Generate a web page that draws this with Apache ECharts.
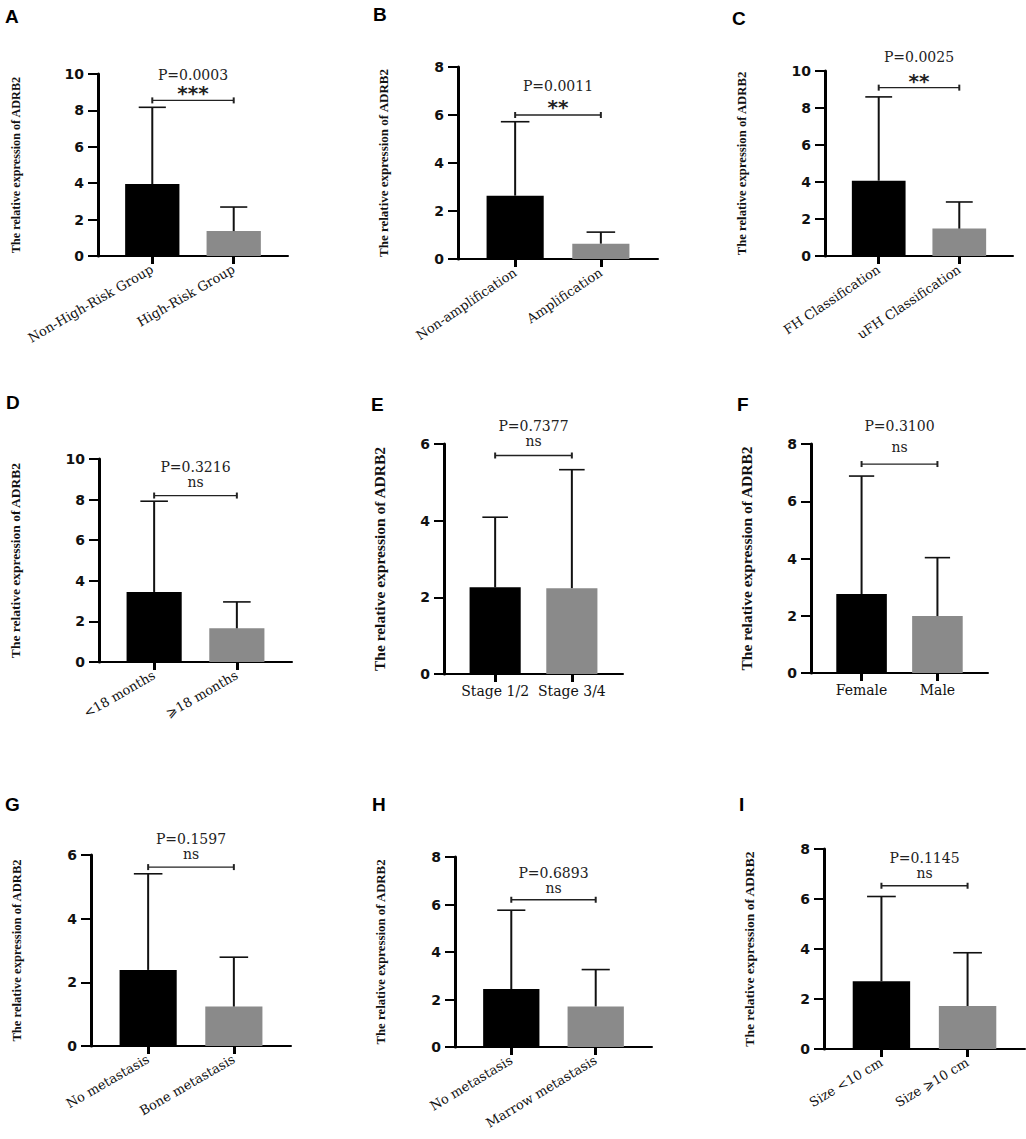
<!DOCTYPE html>
<html>
<head>
<meta charset="utf-8">
<title>Relative expression of ADRB2</title>
<script src="https://cdn.jsdelivr.net/npm/echarts@6/dist/echarts.min.js"></script>
<style>
  html, body { margin: 0; padding: 0; background: #fff; }
  #chart { width: 1026px; height: 1139px; }
</style>
</head>
<body>
<div id="chart"></div>
<script>
// ---- data ----
const panelLetters = ["A", "B", "C", "D", "E", "F", "G", "H", "I"];
const categories = [
  ["Non-High-Risk Group", "High-Risk Group"],
  ["Non-amplification", "Amplification"],
  ["FH Classification", "uFH Classification"],
  ["<18 months", "⩾18 months"],
  ["Stage 1/2", "Stage 3/4"],
  ["Female", "Male"],
  ["No metastasis", "Bone metastasis"],
  ["No metastasis", "Marrow metastasis"],
  ["Size <10 cm", "Size ⩾10 cm"],
];
const means = [
  [3.95, 1.37], [2.64, 0.64], [4.07, 1.48],
  [3.45, 1.66], [2.26, 2.24], [2.76, 1.99],
  [2.39, 1.24], [2.44, 1.71], [2.71, 1.72],
];
const sds = [
  [4.22, 1.32], [3.08, 0.48], [4.53, 1.44],
  [4.47, 1.30], [1.83, 3.09], [4.12, 2.04],
  [3.02, 1.55], [3.32, 1.55], [3.39, 2.13],
];
const yMax = [10, 8, 10, 10, 6, 8, 6, 8, 8];
const yStep = [2, 2, 2, 2, 2, 2, 2, 2, 2];
const pLabels = ["P=0.0003", "P=0.0011", "P=0.0025", "P=0.3216", "P=0.7377",
  "P=0.3100", "P=0.1597", "P=0.6893", "P=0.1145"];
const sigLabels = ["***", "**", "**", "ns", "ns", "ns", "ns", "ns", "ns"];
const bracketY = [8.55, 6.0, 9.1, 8.2, 5.7, 7.3, 5.62, 6.2, 6.53];
const yName = "The relative expression of ADRB2";

// two groups sit at 2 and 5 on a 0..7 x axis (bar width 2, cap width 1)
const slots = [2, 5];
const BLACK = "#000000";
const GRAY = "#8a8a8a";

// ---- layout of each panel (pixels) ----
const layout = [
  { grid: [98, 74, 190, 182], letter: [5, 7], nameGap: 76, nameSize: 12.2, rot: 30, pGap: 25, sGap: 12 },
  { grid: [458, 67, 200, 192], letter: [373, 5], nameGap: 68, nameSize: 13, rot: 34, pGap: 29, sGap: 13 },
  { grid: [825, 71, 188, 185], letter: [732, 9], nameGap: 77, nameSize: 12.7, rot: 34, pGap: 31, sGap: 12 },
  { grid: [99, 459, 193, 203], letter: [6, 393], nameGap: 77, nameSize: 13.5, rot: 30, pGap: 29, sGap: 14 },
  { grid: [444, 444, 179, 230], letter: [371, 395], nameGap: 57, nameSize: 15.5, rot: 0, pGap: 30, sGap: 15 },
  { grid: [811, 444, 177, 229], letter: [737, 395], nameGap: 57, nameSize: 15.5, rot: 0, pGap: 38, sGap: 17 },
  { grid: [91, 855, 200, 191], letter: [5, 795], nameGap: 68, nameSize: 12.6, rot: 30, pGap: 28, sGap: 13 },
  { grid: [455, 857, 197, 190], letter: [372, 795], nameGap: 68, nameSize: 12.8, rot: 31, pGap: 27, sGap: 12 },
  { grid: [824, 849, 201, 200], letter: [739, 795], nameGap: 68, nameSize: 13.5, rot: 31, pGap: 28, sGap: 13 },
];

const grid = [];
const xAxis = [];
const yAxis = [];
const series = [];
const graphic = [];

layout.forEach((p, i) => {
  grid.push({ left: p.grid[0], top: p.grid[1], width: p.grid[2], height: p.grid[3] });

  xAxis.push({
    gridIndex: i,
    type: "value",
    min: 0,
    max: 7,
    splitLine: { show: false },
    axisLine: { show: true, onZero: false, lineStyle: { color: BLACK, width: 2 } },
    axisTick: { show: true, customValues: slots, length: 8, lineStyle: { color: BLACK, width: 3 } },
    axisLabel: {
      customValues: slots,
      rotate: p.rot,
      margin: p.rot ? 12 : 10,
      color: "#111",
      fontFamily: "DejaVu Serif",
      fontSize: p.rot ? 13 : 14,
      formatter: (v) => categories[i][v === slots[0] ? 0 : 1],
    },
  });

  yAxis.push({
    gridIndex: i,
    type: "value",
    min: 0,
    max: yMax[i],
    interval: yStep[i],
    name: yName,
    nameLocation: "middle",
    nameRotate: 90,
    nameGap: p.nameGap,
    nameTextStyle: {
      fontFamily: "Liberation Serif",
      fontWeight: "bold",
      fontSize: p.nameSize,
      color: "#111",
    },
    splitLine: { show: false },
    axisLine: { show: true, lineStyle: { color: BLACK, width: 3 } },
    axisTick: { show: true, length: 10, lineStyle: { color: BLACK, width: 2 } },
    axisLabel: {
      margin: 14,
      color: "#111",
      fontFamily: "DejaVu Sans",
      fontWeight: "bold",
      fontSize: 14,
    },
  });

  const barWidth = (p.grid[2] * 2) / 7;

  series.push({
    type: "bar",
    xAxisIndex: i,
    yAxisIndex: i,
    barWidth: barWidth,
    silent: true,
    data: [
      { value: [slots[0], means[i][0]], itemStyle: { color: BLACK } },
      { value: [slots[1], means[i][1]], itemStyle: { color: GRAY } },
    ],
  });

  // error bars: mean up to mean + SD with a cap
  series.push({
    type: "custom",
    xAxisIndex: i,
    yAxisIndex: i,
    silent: true,
    clip: false,
    z: 3,
    data: [
      [slots[0], means[i][0], sds[i][0]],
      [slots[1], means[i][1], sds[i][1]],
    ],
    renderItem: (params, api) => {
      const x = api.value(0);
      const m = api.value(1);
      const sd = api.value(2);
      const base = api.coord([x, m]);
      const top = api.coord([x, m + sd]);
      const half = api.size([1, 0])[0] / 2;
      return {
        type: "group",
        children: [
          {
            type: "line",
            shape: { x1: base[0], y1: base[1], x2: top[0], y2: top[1] },
            style: { stroke: "#111", lineWidth: 2 },
          },
          {
            type: "line",
            shape: { x1: top[0] - half, y1: top[1], x2: top[0] + half, y2: top[1] },
            style: { stroke: "#111", lineWidth: 1.6 },
          },
        ],
      };
    },
  });

  // significance bracket with P value and stars / ns
  series.push({
    type: "custom",
    xAxisIndex: i,
    yAxisIndex: i,
    silent: true,
    clip: false,
    z: 4,
    data: [[slots[0], bracketY[i], slots[1]]],
    renderItem: (params, api) => {
      const a = api.coord([api.value(0), api.value(1)]);
      const b = api.coord([api.value(2), api.value(1)]);
      const mid = (a[0] + b[0]) / 2;
      const stars = sigLabels[i] !== "ns";
      return {
        type: "group",
        children: [
          {
            type: "line",
            shape: { x1: a[0], y1: a[1], x2: b[0], y2: b[1] },
            style: { stroke: "#222", lineWidth: 1.3 },
          },
          {
            type: "line",
            shape: { x1: a[0], y1: a[1] - 3, x2: a[0], y2: a[1] + 3 },
            style: { stroke: "#222", lineWidth: 2 },
          },
          {
            type: "line",
            shape: { x1: b[0], y1: b[1] - 3, x2: b[0], y2: b[1] + 3 },
            style: { stroke: "#222", lineWidth: 2 },
          },
          {
            type: "text",
            style: {
              text: pLabels[i],
              x: mid,
              y: a[1] - p.pGap,
              textAlign: "center",
              textVerticalAlign: "middle",
              font: '14px "DejaVu Serif"',
              fill: "#222",
            },
          },
          {
            type: "text",
            style: {
              text: sigLabels[i],
              x: mid,
              y: a[1] - p.sGap + (stars ? 5 : 0),
              textAlign: "center",
              textVerticalAlign: "middle",
              font: stars ? 'bold 20px "DejaVu Sans"' : '14px "DejaVu Serif"',
              fill: "#222",
            },
          },
        ],
      };
    },
  });

  graphic.push({
    type: "text",
    left: p.letter[0],
    top: p.letter[1],
    style: {
      text: panelLetters[i],
      font: 'bold 19px "Liberation Sans"',
      fill: "#000",
    },
  });
});

const chart = echarts.init(document.getElementById("chart"), null, { renderer: "svg" });
chart.setOption({
  animation: false,
  backgroundColor: "#ffffff",
  textStyle: { fontFamily: "Liberation Serif" },
  grid: grid,
  xAxis: xAxis,
  yAxis: yAxis,
  series: series,
  graphic: graphic,
});
</script>
</body>
</html>
